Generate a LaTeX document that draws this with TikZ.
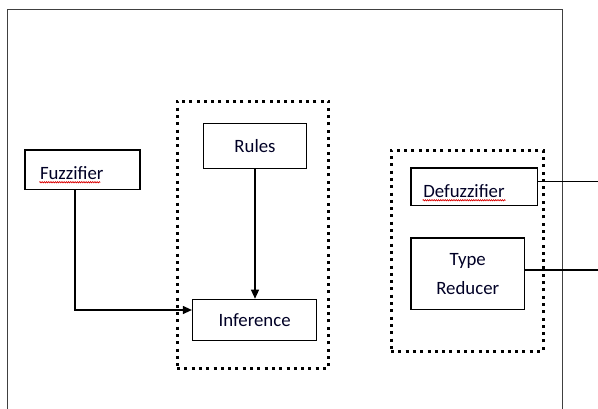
\documentclass[tikz,border=0pt]{standalone}
\usepackage{fontspec}
\setmainfont{Carlito}
\usetikzlibrary{arrows.meta,decorations.pathmorphing}
\begin{document}
\begin{tikzpicture}[x=1pt,y=-1pt,
  box/.style={draw=black,line width=1.2pt,inner sep=0pt,font=\fontsize{18.8}{29.3}\selectfont,text=black!85!blue},
  group/.style={draw=black,line width=3pt,dash pattern=on 3pt off 4.3pt,inner sep=0pt},
  conn/.style={draw=black,line width=1.2pt},
  arr/.style={conn,-{Triangle[length=9pt,width=8pt]}},
  frame/.style={draw=black!75,line width=1.6pt},
  squig/.style={draw=red!85!black,line width=0.7pt,decorate,decoration={zigzag,segment length=2.2pt,amplitude=0.6pt}}]
\useasboundingbox[fill=white] (0,0) rectangle (598,408);
% outer frame
\draw[frame] (7.5,412) -- (7.5,9.5) -- (562.5,9.5) -- (562.5,412);
% groups
\node[group,minimum width=151.5pt,minimum height=267pt] (g1) at (252.75,234.5) {};
\node[group,minimum width=152pt,minimum height=201pt] (g2) at (467,250.5) {};
% boxes
\node[box,text width=85pt,align=left,inner xsep=15pt,minimum height=39.5pt,text height=19pt,text depth=0pt] (fuzz) at (82.5,169.75) {Fuzzifier};
\node[box,minimum width=103.4pt,minimum height=45pt] (rules) at (255,145.8) {Rules};
\node[box,minimum width=124.2pt,minimum height=41.4pt] (inf) at (254.6,320) {Inference};
\node[box,text width=102pt,align=left,inner xsep=12.25pt,minimum height=37.5pt,text height=21pt,text depth=0pt] (defz) at (474.25,186.75) {Defuzzifier};
\node[box,minimum width=113.5pt,minimum height=71.5pt,align=center] (tred) at (467.75,273.75) {Type\\Reducer};
% spell-check underlines
\draw[squig] ([xshift=15pt,yshift=-3pt]fuzz.base west) -- ++(61pt,0);
\draw[squig] ([xshift=12.25pt,yshift=-3pt]defz.base west) -- ++(83pt,0);
% connectors
\draw[arr] ([xshift=-7.5pt]fuzz.south) |- ([yshift=10pt]inf.west);
\draw[arr] (rules) -- (rules |- inf.north);
\coordinate (outr) at (598,0);
\draw[conn] ([yshift=5pt]defz.east) -- ([yshift=5pt]defz.east -| outr);
\draw[conn] ([yshift=3.75pt]tred.east) -- ([yshift=3.75pt]tred.east -| outr);
\end{tikzpicture}
\end{document}
